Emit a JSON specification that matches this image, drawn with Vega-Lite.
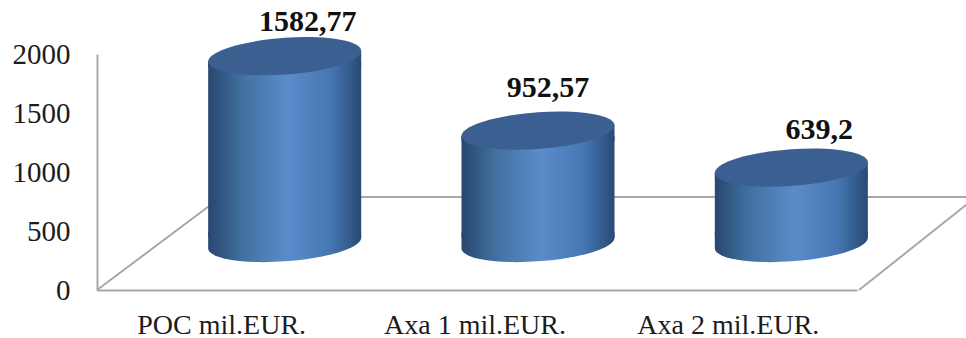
{
  "$schema": "https://vega.github.io/schema/vega-lite/v6.json",
  "width": 760,
  "height": 236,
  "autosize": "none",
  "padding": {"left": 97, "top": 54, "right": 109, "bottom": 48},
  "background": "white",
  "config": {"view": {"stroke": null}},
  "datasets": {
    "costs": [
      {"category": "POC mil.EUR.", "value": 1582.77, "label": "1582,77"},
      {"category": "Axa 1 mil.EUR.", "value": 952.57, "label": "952,57"},
      {"category": "Axa 2 mil.EUR.", "value": 639.2, "label": "639,2"}
    ],
    "floor": [
      {"edge": "left", "u": 0, "u2": 0.49, "v": 0, "v2": 788},
      {"edge": "back", "u": 0.49, "u2": 3.47, "v": 788, "v2": 788},
      {"edge": "right", "u": 3.008, "u2": 3.47, "v": 0, "v2": 788}
    ]
  },
  "resolve": {"scale": {"x": "independent"}},
  "layer": [
    {
      "data": {"name": "floor"},
      "mark": {"type": "rule", "color": "#a8a8a8", "strokeWidth": 2, "clip": false},
      "encoding": {
        "x": {"field": "u", "type": "quantitative", "scale": {"domain": [0, 3], "nice": false, "zero": false}, "axis": null},
        "x2": {"field": "u2"},
        "y": {
          "field": "v",
          "type": "quantitative",
          "scale": {"domain": [0, 2000], "nice": false},
          "axis": {
            "title": null,
            "values": [0, 500, 1000, 1500, 2000],
            "format": "d",
            "labelFont": "Liberation Serif",
            "labelFontSize": 29,
            "labelColor": "#1c1c1c",
            "labelPadding": 27,
            "ticks": false,
            "grid": false,
            "domainColor": "#a8a8a8",
            "domainWidth": 2
          }
        },
        "y2": {"field": "v2"}
      }
    },
    {
      "data": {"name": "costs"},
      "encoding": {
        "x": {
          "field": "category",
          "type": "nominal",
          "sort": null,
          "scale": {"paddingInner": 0, "paddingOuter": 0},
          "axis": {
            "title": null,
            "labelAngle": 0,
            "labelFont": "Liberation Serif",
            "labelFontSize": 28,
            "labelColor": "#1c1c1c",
            "labelPadding": 21,
            "labelLimit": 400,
            "labelOffset": -2,
            "ticks": false,
            "domainColor": "#a8a8a8",
            "domainWidth": 2,
            "grid": false
          }
        },
        "y": {"field": "value", "type": "quantitative"}
      },
      "layer": [
        {
          "mark": {
            "type": "bar",
            "size": 153,
            "xOffset": 61,
            "yOffset": -41.5,
            "fill": {
              "x1": 0, "x2": 1, "y1": 0, "y2": 0,
              "gradient": "linear",
              "stops": [
                {"offset": 0, "color": "#27476f"},
                {"offset": 0.22, "color": "#41709f"},
                {"offset": 0.52, "color": "#5a8ccb"},
                {"offset": 0.8, "color": "#4677b2"},
                {"offset": 1, "color": "#284a75"}
              ]
            }
          },
          "encoding": {"y2": {"datum": 444}}
        },
        {
          "mark": {
            "type": "point",
            "filled": true,
            "opacity": 1,
            "size": 23409,
            "xOffset": 61,
            "yOffset": -47,
            "shape": "M1,-.07L1,.14L-1,.14L-1,.07Z",
            "fill": {
              "x1": 0, "x2": 1, "y1": 0, "y2": 0,
              "gradient": "linear",
              "stops": [
                {"offset": 0, "color": "#27476f"},
                {"offset": 0.22, "color": "#41709f"},
                {"offset": 0.52, "color": "#5a8ccb"},
                {"offset": 0.8, "color": "#4677b2"},
                {"offset": 1, "color": "#284a75"}
              ]
            }
          }
        },
        {
          "mark": {
            "type": "point",
            "filled": true,
            "opacity": 1,
            "size": 23409,
            "xOffset": 61,
            "yOffset": -47,
            "shape": "M-1,-.14L1,-.14L1,-.07C1,.0626 .5523,.2013 0,.24C-.5523,.2787 -1,.2026 -1,.07Z",
            "fill": {
              "x1": 0, "x2": 1, "y1": 0, "y2": 0,
              "gradient": "linear",
              "stops": [
                {"offset": 0, "color": "#27476f"},
                {"offset": 0.22, "color": "#41709f"},
                {"offset": 0.52, "color": "#5a8ccb"},
                {"offset": 0.8, "color": "#4677b2"},
                {"offset": 1, "color": "#284a75"}
              ]
            }
          },
          "encoding": {"y": {"datum": 0, "type": "quantitative"}}
        },
        {
          "mark": {
            "type": "point",
            "filled": true,
            "opacity": 1,
            "size": 23409,
            "xOffset": 61,
            "yOffset": -47,
            "color": "#3b5f90",
            "shape": "M1,-.07C1,.0626 .5523,.2013 0,.24C-.5523,.2787 -1,.2026 -1,.07C-1,-.0626 -.5523,-.2013 0,-.24C.5523,-.2787 1,-.2026 1,-.07Z"
          }
        },
        {
          "transform": [{"filter": "datum.label === '1582,77'"}],
          "mark": {"type": "text", "font": "Liberation Serif", "fontWeight": "bold", "fontSize": 30, "color": "#111111", "dx": 84, "dy": -81, "baseline": "middle"},
          "encoding": {"text": {"field": "label"}}
        },
        {
          "transform": [{"filter": "datum.label === '952,57'"}],
          "mark": {"type": "text", "font": "Liberation Serif", "fontWeight": "bold", "fontSize": 30, "color": "#111111", "dx": 71, "dy": -90, "baseline": "middle"},
          "encoding": {"text": {"field": "label"}}
        },
        {
          "transform": [{"filter": "datum.label === '639,2'"}],
          "mark": {"type": "text", "font": "Liberation Serif", "fontWeight": "bold", "fontSize": 30, "color": "#111111", "dx": 89, "dy": -85, "baseline": "middle"},
          "encoding": {"text": {"field": "label"}}
        }
      ]
    }
  ]
}
